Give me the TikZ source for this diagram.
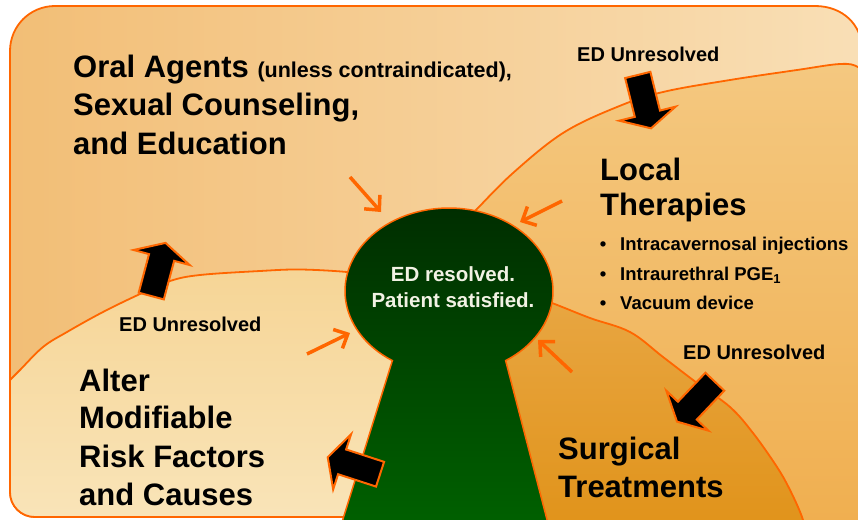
\documentclass[tikz,border=0pt]{standalone}
\usepackage{fontspec}
\setmainfont{Liberation Sans}
\usetikzlibrary{arrows.meta,shapes.arrows,positioning}

\definecolor{edgeorange}{RGB}{255,102,0}
\definecolor{oralleft}{RGB}{242,190,118}
\definecolor{oralright}{RGB}{249,223,182}
\definecolor{localtop}{RGB}{244,200,128}
\definecolor{localbottom}{RGB}{240,174,78}
\definecolor{surgtop}{RGB}{232,166,66}
\definecolor{surgbottom}{RGB}{224,146,24}
\definecolor{altertop}{RGB}{246,213,150}
\definecolor{alterbottom}{RGB}{249,228,184}
\definecolor{keytop}{RGB}{0,46,0}
\definecolor{keybottom}{RGB}{0,98,0}
\definecolor{keytext}{RGB}{242,242,228}

\begin{document}
\begin{tikzpicture}[x=1pt,y=-1pt,
    region/.style={draw=edgeorange,line width=1.8pt},
    bigtext/.style={font=\fontsize{31}{37}\selectfont\bfseries,anchor=base west,inner sep=0pt},
    labeltext/.style={font=\fontsize{20}{24}\selectfont\bfseries,anchor=base west,inner sep=0pt},
    bullettext/.style={font=\fontsize{18.5}{22}\selectfont\bfseries,anchor=base west,inner sep=0pt},
    keylabel/.style={font=\fontsize{20.5}{24}\selectfont\bfseries,text=keytext,anchor=base,inner sep=0pt},
    pointer/.style={draw=edgeorange,line width=3.5pt,-{Straight Barb[length=11pt,width=21pt]}},
    blockarrow/.style={single arrow,fill=black,draw=edgeorange,line width=2pt,inner sep=0pt,
      inner ysep=12pt,minimum height=55pt,minimum width=56pt,single arrow head extend=16pt,
      single arrow tip angle=125,anchor=tail}]

    \useasboundingbox (0,0) rectangle (858,519);
    \clip (0,0) rectangle (858,519);

    % background: oral agents
    \draw[region,left color=oralleft,right color=oralright]
      (10,51) .. controls (10,26) and (30,6) .. (55,6) -- (815,6)
      .. controls (842,6) and (862,24) .. (862,50) -- (862,517) -- (35,517)
      .. controls (21,517) and (10,506) .. (10,492) -- cycle;

    % local therapies
    \draw[region,top color=localtop,bottom color=localbottom]
      plot[smooth,tension=0.6] coordinates {(464,222) (475,211) (513,173) (563,133) (617,107)
        (663,92) (730,80) (797,70) (840,64) (858,67) (872,80)}
      -- (872,540) -- (464,540) -- cycle;

    % surgical treatments
    \draw[region,top color=surgtop,bottom color=surgbottom]
      plot[smooth,tension=0.6] coordinates {(535,298) (552,303) (590,318) (630,332) (663,357)
        (697,383) (730,407) (753,433) (777,467) (790,490) (802,517) (808,540)}
      -- (500,540) -- (500,300) -- cycle;

    % alter risk factors
    \draw[region,top color=altertop,bottom color=alterbottom]
      plot[smooth,tension=0.6] coordinates {(10,380) (20,370) (43,347) (67,332) (103,312)
        (140,294) (170,281) (200,275) (260,271) (300,269.5) (347,272) (370,276)}
      -- (420,300) -- (420,517) -- (35,517)
      .. controls (21,517) and (10,506) .. (10,492) -- cycle;

    % keyhole
    \draw[draw=edgeorange,line width=1.5pt,top color=keytop,bottom color=keybottom]
      (338,535) -- plot[domain=123:417,samples=90] ({449+104*cos(\x)},{291+83*sin(\x)})
      -- (551,535) -- cycle;

    \node[keylabel] (resolved)  at (453,281.5) {ED resolved.};
    \node[keylabel] (satisfied) at (453,307.5) {Patient satisfied.};

    % region texts
    \node[bigtext] (oral1) at (73,77) {Oral Agents {\fontsize{21.5}{24}\selectfont(unless contraindicated),}};
    \node[bigtext] (oral2) at (73,115) {Sexual Counseling,};
    \node[bigtext] (oral3) at (73,154) {and Education};

    \node[bigtext] (local1) at (600,180) {Local};
    \node[bigtext] (local2) at (600,215.5) {Therapies};
    \node[bullettext,anchor=base] (dot1) at (603,250.5) {\textbullet};
    \node[bullettext,anchor=base] (dot2) at (603,280.5) {\textbullet};
    \node[bullettext,anchor=base] (dot3) at (603,309.5) {\textbullet};
    \node[bullettext] (item1) at (620,250.5) {Intracavernosal injections};
    \node[bullettext] (item2) at (620,280.5) {Intraurethral PGE\textsubscript{1}};
    \node[bullettext] (item3) at (620,309.5) {Vacuum device};

    \node[bigtext] (alter1) at (79,391) {Alter};
    \node[bigtext] (alter2) at (79,428.5) {Modifiable};
    \node[bigtext] (alter3) at (79,467) {Risk Factors};
    \node[bigtext] (alter4) at (79,505) {and Causes};

    \node[bigtext] (surg1) at (558,459) {Surgical};
    \node[bigtext] (surg2) at (558,497) {Treatments};

    \node[labeltext] (unresTop)   at (577,61)  {ED Unresolved};
    \node[labeltext] (unresLeft)  at (119,331) {ED Unresolved};
    \node[labeltext] (unresRight) at (683,359) {ED Unresolved};

    % block arrows
    \node[blockarrow,rotate=-76]    (toLocal)    at (637.5,74)   {};
    \node[blockarrow,rotate=75]     (toOral)     at (151,297)    {};
    \node[blockarrow,rotate=-133.5] (toSurgical) at (715.5,381)  {};
    \node[blockarrow,rotate=162]    (toAlter)    at (381,474.5)  {};

    % pointers into the keyhole
    \coordinate (oralFrom)  at (350,177);
    \coordinate (oralTo)    at (381,212);
    \coordinate (localFrom) at (562,201);
    \coordinate (localTo)   at (520,222);
    \coordinate (alterFrom) at (307,354);
    \coordinate (alterTo)   at (350,333);
    \coordinate (surgFrom)  at (572,372);
    \coordinate (surgTo)    at (538,340);

    \draw[pointer] (oralFrom) -- (oralTo);
    \draw[pointer] (localFrom) -- (localTo);
    \draw[pointer] (alterFrom) -- (alterTo);
    \draw[pointer] (surgFrom) -- (surgTo);

\end{tikzpicture}
\end{document}
